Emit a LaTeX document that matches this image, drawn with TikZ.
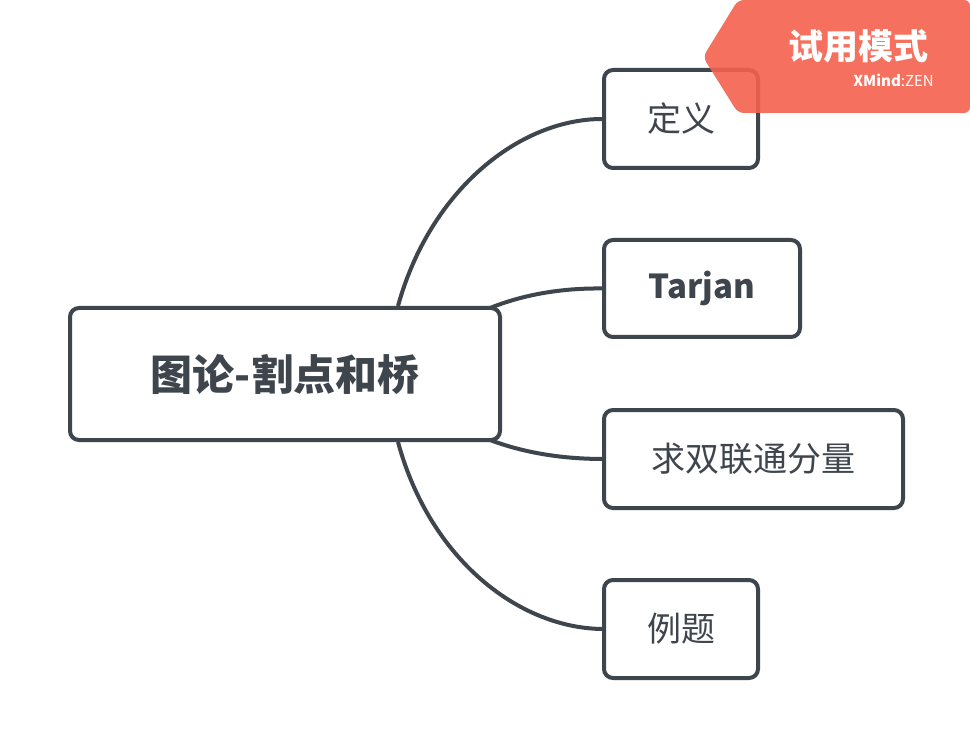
\documentclass[tikz,border=0pt]{standalone}
\usepackage{fontspec}
\setmainfont{Noto Sans CJK SC}
\newfontfamily\cjk{Noto Sans CJK SC}
\definecolor{ink}{HTML}{3E454D}
\definecolor{badge}{HTML}{F4614D}
\begin{document}
\begin{tikzpicture}[x=1pt,y=-1pt,
  box/.style={draw=ink,line width=4pt,rounded corners=9pt,fill=white,text=ink,inner sep=0pt,font=\cjk\fontsize{34}{40}\selectfont},
  link/.style={draw=ink,line width=4pt}]
\useasboundingbox (0,0) rectangle (970,746);
\fill[white] (0,0) rectangle (970,746);
\coordinate (r1) at (398,306);
\coordinate (r2) at (490,308);
\coordinate (r3) at (490,440);
\coordinate (r4) at (398,442);
\coordinate (a) at (604,119);
\coordinate (b) at (604,288.5);
\coordinate (c) at (604,459);
\coordinate (d) at (604,629);
\draw[link] (r1) .. controls (430,190) and (520,118) .. (a);
\draw[link] (r2) .. controls (530,292) and (570,288) .. (b);
\draw[link] (r3) .. controls (530,455) and (570,459) .. (c);
\draw[link] (r4) .. controls (430,560) and (520,629) .. (d);
\node[box,minimum width=430pt,minimum height=132pt,font=\cjk\bfseries\fontsize{42}{48}\selectfont] (root) at (285,374) {图论-割点和桥};
\node[box,minimum width=154pt,minimum height=98pt] (na) at (681,119) {定义};
\node[box,minimum width=196pt,minimum height=97pt,font=\cjk\bfseries\fontsize{33}{38}\selectfont] (nb) at (702,288.5) {Tarjan};
\node[box,minimum width=299pt,minimum height=98pt] (nc) at (753.5,459) {求双联通分量};
\node[box,minimum width=154pt,minimum height=98pt] (nd) at (681,629) {例题};
\fill[badge,opacity=0.9,rounded corners=6pt] (738,0) -- (970,0) -- (970,113) -- (738,113) -- (703,57) -- cycle;
\node[text=white,font=\cjk\bfseries\fontsize{35}{40}\selectfont] (t) at (858,46) {试用模式};
\node[text=white,font=\cjk\fontsize{15}{18}\selectfont,anchor=east,inner sep=0pt] (z) at (934,80) {\textbf{XMind}:ZEN};
\end{tikzpicture}
\end{document}
